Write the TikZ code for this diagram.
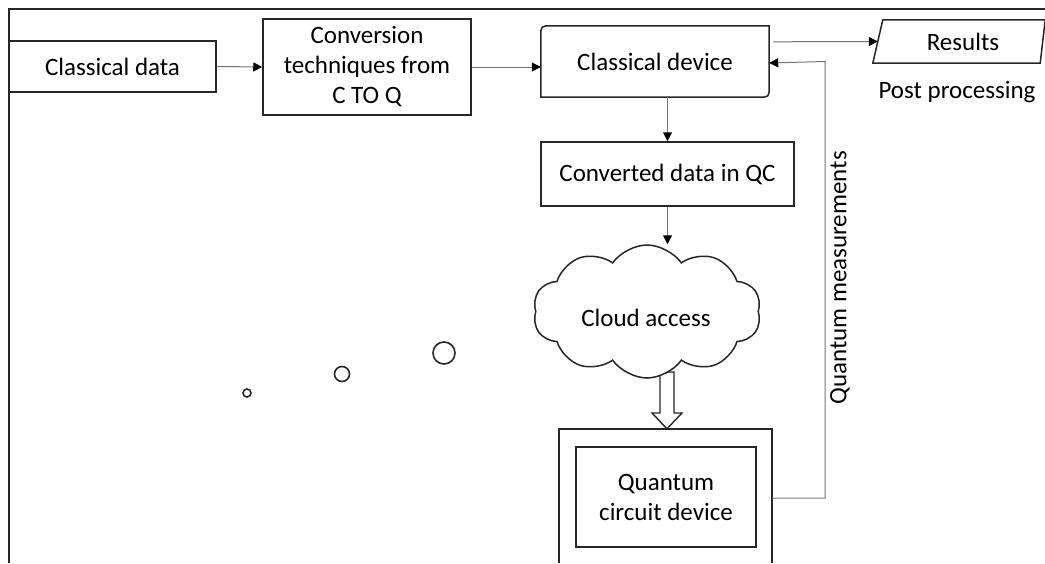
\documentclass[tikz,border=0pt]{standalone}
\usepackage{fontspec}
\setmainfont{Carlito}
\usetikzlibrary{shapes.symbols,arrows.meta}
\begin{document}
\begin{tikzpicture}[x=1pt,y=-1pt,
  txt/.style={inner sep=0pt, align=center, font=\fontsize{25}{30}\selectfont},
  box/.style={txt, draw=black!85, line width=1.5pt},
  shapeonly/.style={draw=black!85, line width=1.5pt},
  conn/.style={draw=black!55, line width=1pt, -{Triangle[length=9pt,width=9pt,color=black]}},
  dot/.style={circle, draw=black!85, line width=1.6pt, inner sep=0pt}
]
\useasboundingbox (0,0) rectangle (1045,563);
% outer frame
\draw[line width=1.8pt, draw=black!85] (9,563) -- (9,9) -- (1045,9);

\node[box, minimum width=207, minimum height=51] (cdata) at (112.5,66.5) {Classical data};
\node[box, minimum width=208, minimum height=96] (conv) at (367,67) {Conversion\\techniques from\\C TO Q};
\node[txt, minimum width=228, minimum height=71] (cd) at (655,61.5) {Classical device};
\draw[shapeonly] (cd.south west) -- ([yshift=-11pt]cd.north west)
  .. controls (cd.north west) .. ([xshift=11pt]cd.north west) -- (cd.north east)
  -- ([yshift=11pt]cd.south east) .. controls (cd.south east) .. ([xshift=-11pt]cd.south east) -- cycle;
\node[txt, minimum width=164, minimum height=43] (res) at (963,41.5) {Results};
\draw[shapeonly] ([xshift=2pt]res.north west) -- (res.north east) -- ([xshift=-5pt]res.south east)
  -- ([xshift=-8pt]res.south west) -- cycle;
\node[txt] (post) at (957,92.5) {Post processing};
\node[box, minimum width=253, minimum height=64] (conv2) at (667.5,174) {Converted data in QC};
\node[minimum width=213, minimum height=134, inner sep=0pt] (qo) at (665.5,496) {};
% block arrow from cloud to quantum device
\draw[draw=black!85, line width=1.4pt, fill=white]
  (660,372) -- (660,413) -- (652,413) -- (qo.north -| 667,0) -- (682,413) -- (674,413) -- (674,372) -- cycle;
\node[cloud, cloud puffs=10, cloud puff arc=110, draw=black!85, line width=1.5pt, fill=white, minimum width=228, minimum height=133, inner sep=0pt] (cloud) at (647,311.5) {};
\node[txt] (cloudtxt) at (646,318) {Cloud access};
\draw[line width=1.8pt, draw=black!85] (qo.south west) -- (qo.north west) -- (qo.north east) -- (qo.south east);
\node[box, minimum width=180, minimum height=100] (qi) at (666,497) {Quantum\\circuit device};

\node[txt, rotate=90] (qm) at (840,278) {Quantum measurements};

\node[dot, minimum size=8] (c1) at (247,393) {};
\node[dot, minimum size=15] (c2) at (342,374) {};
\node[dot, minimum size=22] (c3) at (444,353) {};

\coordinate (fb) at (825,0);
\draw[conn] (cdata.east) -- (conv.west);
\draw[conn] (conv.east) -- (cd.west |- conv.east);
\draw[conn] ([xshift=4pt,yshift=-16pt]cd.north east) -- ([xshift=-3pt]res.west);
\draw[conn] (cd.south -| conv2.north) -- (conv2.north);
\draw[conn] (conv2.south) -- (conv2.south |- cloud.north);
\draw[conn] ([yshift=-2pt]qo.east) -| (fb |- cd.east) -- ([yshift=-1.5pt]cd.east);
\end{tikzpicture}
\end{document}
